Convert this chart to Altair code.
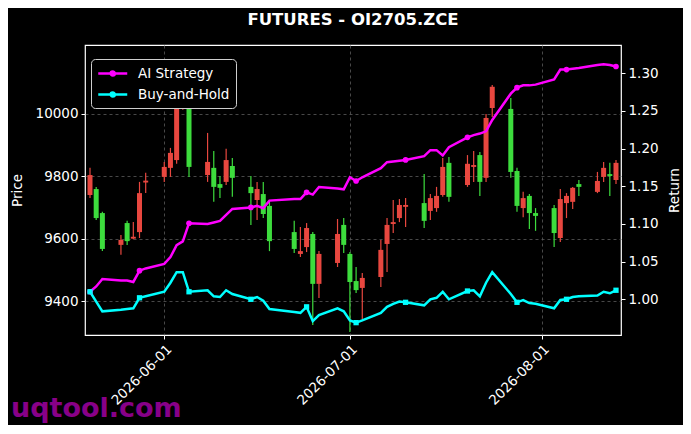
import altair as alt
import pandas as pd

# ---------------- data ----------------
dates = ["2026-05-20", "2026-05-21", "2026-05-22", "2026-05-25", "2026-05-26", "2026-05-27",
         "2026-05-28", "2026-05-29", "2026-06-01", "2026-06-02", "2026-06-03", "2026-06-04",
         "2026-06-05", "2026-06-08", "2026-06-09", "2026-06-10", "2026-06-11", "2026-06-12",
         "2026-06-15", "2026-06-16", "2026-06-17", "2026-06-18", "2026-06-22", "2026-06-23",
         "2026-06-24", "2026-06-25", "2026-06-26", "2026-06-29", "2026-06-30", "2026-07-01",
         "2026-07-02", "2026-07-03", "2026-07-06", "2026-07-07", "2026-07-08", "2026-07-09",
         "2026-07-10", "2026-07-13", "2026-07-14", "2026-07-15", "2026-07-16", "2026-07-17",
         "2026-07-20", "2026-07-21", "2026-07-22", "2026-07-23", "2026-07-24", "2026-07-27",
         "2026-07-28", "2026-07-29", "2026-07-30", "2026-07-31", "2026-08-03", "2026-08-04",
         "2026-08-05", "2026-08-06", "2026-08-07", "2026-08-10", "2026-08-11", "2026-08-12",
         "2026-08-13"]

opens = [9740, 9759, 9682, 9580, 9650, 9600, 9621, 9780, 9798, 9827, 9852, 10050,
         10075, 9804, 9827, 9775, 9782, 9833, 9766, 9724, 9743, 9705, 9621, 9551,
         9573, 9615, 9455, 9522, 9644, 9551, 9464, 9442, 9477, 9583, 9647, 9666,
         9702, 9714, 9689, 9698, 9740, 9843, 9772, 9830, 9868, 9795, 10019, 10016,
         9817, 9698, 9737, 9682, 9698, 9602, 9714, 9718, 9775, 9750, 9798, 9807,
         9788]
highs = [9827, 9766, 9686, 9612, 9657, 9653, 9782, 9811, 9846, 9891, 10100, 10120,
         10095, 9939, 9881, 9801, 9888, 9859, 9801, 9782, 9782, 9718, 9657, 9637,
         9650, 9621, 9560, 9663, 9666, 9557, 9509, 9490, 9596, 9666, 9724, 9727,
         9730, 9807, 9743, 9766, 9859, 9862, 9868, 9881, 9878, 10000, 10093, 10051,
         9827, 9750, 9743, 9698, 9708, 9759, 9746, 9766, 9788, 9814, 9846, 9843,
         9852]
lows = [9730, 9660, 9560, 9548, 9580, 9598, 9602, 9746, 9782, 9798, 9840, 10013,
        9798, 9782, 9718, 9730, 9772, 9734, 9644, 9660, 9666, 9560, 9554, 9541,
        9557, 9323, 9410, 9509, 9554, 9301, 9426, 9340, 9445, 9493, 9618, 9653,
        9637, 9634, 9660, 9686, 9734, 9718, 9766, 9782, 9737, 9782, 9990, 9795,
        9686, 9669, 9631, 9625, 9573, 9589, 9666, 9695, 9737, 9746, 9782, 9737,
        9775]
closes = [9804, 9666, 9567, 9596, 9592, 9606, 9746, 9786, 9830, 9875, 10080, 10095,
          9830, 9846, 9766, 9763, 9852, 9795, 9746, 9759, 9679, 9592, 9567, 9560,
          9634, 9455, 9551, 9615, 9580, 9461, 9435, 9474, 9564, 9644, 9653, 9708,
          9708, 9657, 9730, 9737, 9830, 9734, 9840, 9836, 9782, 9987, 10087, 9814,
          9705, 9730, 9682, 9673, 9618, 9727, 9737, 9763, 9766, 9785, 9827, 9801,
          9843]

ai_strategy = [1.010, 1.017, 1.027, 1.025, 1.025, 1.023, 1.038, 1.041, 1.047, 1.056,
               1.072, 1.077, 1.101, 1.100, 1.102, 1.104, 1.112, 1.120, 1.122, 1.124,
               1.121, 1.131, 1.133, 1.133, 1.142, 1.139, 1.149, 1.147, 1.146, 1.162,
               1.157, 1.162, 1.174, 1.182, 1.183, 1.184, 1.185, 1.190, 1.198, 1.198,
               1.191, 1.202, 1.215, 1.218, 1.220, 1.223, 1.238, 1.273, 1.281, 1.284,
               1.284, 1.285, 1.292, 1.305, 1.305, 1.306, 1.307, 1.311, 1.312, 1.311,
               1.309]
buy_hold = [1.010, 0.997, 0.984, 0.986, 0.987, 0.988, 1.002, 1.004, 1.010, 1.022,
            1.036, 1.036, 1.010, 1.012, 1.004, 1.003, 1.012, 1.007, 1.000, 1.003,
            0.998, 0.987, 0.983, 0.982, 0.990, 0.971, 0.979, 0.988, 0.984, 0.972,
            0.969, 0.972, 0.982, 0.990, 0.994, 0.997, 0.996, 0.992, 1.000, 1.002,
            1.010, 1.000, 1.011, 1.012, 1.004, 1.022, 1.036, 1.007, 0.996, 0.999,
            0.995, 0.994, 0.988, 0.999, 1.000, 1.003, 1.004, 1.005, 1.010, 1.008,
            1.012]

series_names = ["AI Strategy", "Buy-and-Hold"]
title_text = "FUTURES - OI2705.ZCE"
watermark_text = "uqtool.com"
price_ticks = [9400, 9600, 9800, 10000]
return_ticks = [1.00, 1.05, 1.10, 1.15, 1.20, 1.25, 1.30]
date_ticks = [(2026, 6, 1), (2026, 7, 1), (2026, 8, 1)]
x_range = [(2026, 5, 20), (2026, 8, 13)]
price_range = [9291, 10221]
return_range = [0.9526, 1.3376]

# ---------------- styling ----------------
RED = "#e8473f"
GREEN = "#3ddc3d"
MAGENTA = "#ff00ff"
CYAN = "#00ffff"
FONT = "DejaVu Sans"
W, H = 536, 290

candles = pd.DataFrame({"date": dates, "open": opens, "high": highs,
                        "low": lows, "close": closes})
candles["dir"] = ["up" if c >= o else "down" for o, c in zip(opens, closes)]

lines = pd.DataFrame({
    "date": dates * 2,
    "series": [series_names[0]] * len(dates) + [series_names[1]] * len(dates),
    "value": ai_strategy + buy_hold,
    "idx": list(range(len(dates))) * 2,
})


def dt(t):
    return alt.DateTime(year=t[0], month=t[1], date=t[2], utc=True)


x_enc = alt.X(
    "date:T",
    scale=alt.Scale(type="utc", domain=[dt(x_range[0]), dt(x_range[1])]),
    axis=alt.Axis(values=[dt(t) for t in date_ticks], format="%Y-%m-%d",
                  labelAngle=-45, title=None, grid=True),
)

price_scale = alt.Scale(domain=price_range, nice=False, zero=False)
price_axis = alt.Axis(values=price_ticks, format="d", title="Price", grid=True,
                      orient="left", titleX=-68, titleY=H / 2, titleAngle=270,
                      titleAlign="center", titleBaseline="middle")
ret_scale = alt.Scale(domain=return_range, nice=False, zero=False)
ret_axis = alt.Axis(values=return_ticks, format=".2f", title="Return", grid=False,
                    orient="right", titleX=53, titleY=H / 2, titleAngle=270,
                    titleAlign="center", titleBaseline="middle")

dir_scale = alt.Scale(domain=["up", "down"], range=[RED, GREEN])

base_c = alt.Chart(candles)
wicks = base_c.mark_rule(strokeWidth=1.2, clip=True).encode(
    x=x_enc,
    y=alt.Y("low:Q", scale=price_scale, axis=price_axis),
    y2="high:Q",
    stroke=alt.Stroke("dir:N", scale=dir_scale, legend=None),
)
bodies = base_c.mark_bar(size=5, clip=True, strokeWidth=0).encode(
    x=x_enc,
    y=alt.Y("open:Q", scale=price_scale, axis=price_axis),
    y2="close:Q",
    fill=alt.Fill("dir:N", scale=dir_scale, legend=None),
)
price_layer = alt.layer(wicks, bodies)

# legend symbol: a short line with a dot in its middle (unit box scaled by sqrt(size)/2)
legend_path = ("M-1,0L3,0M0.72,0A0.28,0.28,0,1,0,1.28,0"
               "A0.28,0.28,0,1,0,0.72,0Z")

base_l = alt.Chart(lines)
line_marks = base_l.mark_line(strokeWidth=2.5, clip=True).encode(
    x=x_enc,
    y=alt.Y("value:Q", scale=ret_scale, axis=ret_axis),
    color=alt.Color(
        "series:N",
        scale=alt.Scale(domain=series_names, range=[MAGENTA, CYAN]),
        legend=alt.Legend(
            title=None, orient="none", legendX=6, legendY=14,
            fillColor="#000000", strokeColor="#cfcfcf", cornerRadius=4,
            padding=6, labelColor="#ffffff", labelFontSize=13.5, labelFont=FONT,
            symbolType=legend_path, symbolSize=210, symbolStrokeWidth=2.5,
            rowPadding=5, labelOffset=24,
        ),
    ),
)
markers_ai = base_l.transform_filter(
    f"datum.series == '{series_names[0]}' && datum.idx % 6 == 0"
).mark_point(filled=True, size=32, shape="circle", color=MAGENTA, opacity=1,
             clip=True).encode(
    x=x_enc, y=alt.Y("value:Q", scale=ret_scale, axis=ret_axis))
markers_bh = base_l.transform_filter(
    f"datum.series == '{series_names[1]}' && datum.idx % 6 == 0"
).mark_point(filled=True, size=28, shape="square", color=CYAN, opacity=1,
             clip=True).encode(
    x=x_enc, y=alt.Y("value:Q", scale=ret_scale, axis=ret_axis))

ret_layer = alt.layer(line_marks, markers_ai, markers_bh)

watermark = alt.Chart(pd.DataFrame({"t": [watermark_text]})).mark_text(
    align="left", baseline="alphabetic", fontSize=27, fontWeight="bold",
    font=FONT, color="#880088",
).encode(text="t:N", x=alt.value(-74), y=alt.value(372))

chart = alt.layer(price_layer, ret_layer, watermark).resolve_scale(
    y="independent", stroke="independent", fill="independent", color="independent"
).properties(
    width=W, height=H,
    title=alt.TitleParams(title_text, color="#ffffff", fontSize=16.5,
                          fontWeight="bold", font=FONT, anchor="middle",
                          frame="group", offset=17),
    autosize=alt.AutoSizeParams(type="none"),
    padding={"left": 77, "top": 37, "right": 62, "bottom": 90},
    background="#000000",
).configure_view(
    stroke="#ffffff", strokeWidth=1.2, fill="#000000",
).configure_axis(
    labelColor="#ffffff", titleColor="#ffffff", labelFont=FONT, titleFont=FONT,
    labelFontSize=13.5, titleFontSize=13.5, titleFontWeight="normal",
    domain=False, tickColor="#ffffff", tickSize=4, tickWidth=1,
    gridColor="#5a5a5a", gridDash=[3, 3], gridWidth=0.8, labelPadding=3,
)

chart.save("out.html", embed_options={"renderer": "svg", "actions": False})
